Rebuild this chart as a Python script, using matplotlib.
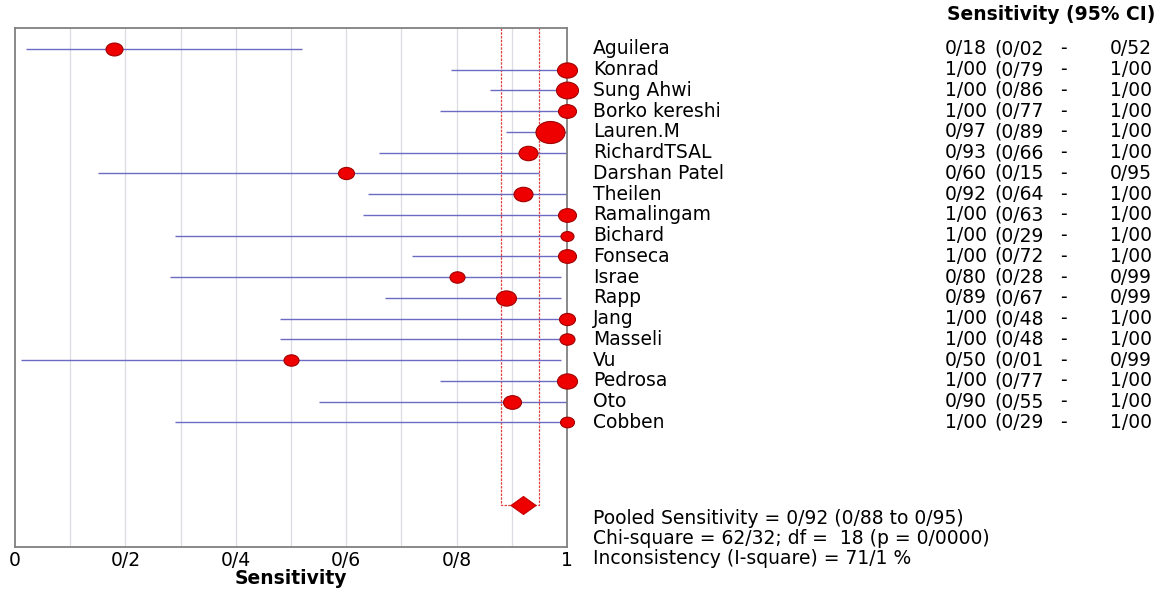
import matplotlib
matplotlib.use('Agg')

import numpy as np
import matplotlib.pyplot as plt
from matplotlib.path import Path
from matplotlib.markers import MarkerStyle

studies = ['Aguilera', 'Konrad', 'Sung Ahwi', 'Borko kereshi', 'Lauren.M', 'RichardTSAL',
           'Darshan Patel', 'Theilen', 'Ramalingam', 'Bichard', 'Fonseca', 'Israe', 'Rapp',
           'Jang', 'Masseli', 'Vu', 'Pedrosa', 'Oto', 'Cobben']
sens = [0.18, 1.00, 1.00, 1.00, 0.97, 0.93, 0.60, 0.92, 1.00, 1.00, 1.00, 0.80, 0.89,
        1.00, 1.00, 0.50, 1.00, 0.90, 1.00]
ci_low = [0.02, 0.79, 0.86, 0.77, 0.89, 0.66, 0.15, 0.64, 0.63, 0.29, 0.72, 0.28, 0.67,
          0.48, 0.48, 0.01, 0.77, 0.55, 0.29]
ci_high = [0.52, 1.00, 1.00, 1.00, 1.00, 1.00, 0.95, 1.00, 1.00, 1.00, 1.00, 0.99, 0.99,
           1.00, 1.00, 0.99, 1.00, 1.00, 1.00]
# relative study weights (marker width)
weights = [17, 20, 22, 18, 29, 19, 16, 19, 18, 13, 18, 15, 20, 16, 15, 15, 20, 18, 14]

pooled = 0.92
pooled_low = 0.88
pooled_high = 0.95
chi2 = 62.32
df = 18
i2 = 71.1

xticks = [0, 0.2, 0.4, 0.6, 0.8, 1.0]
xticklabels = ['0', '0/2', '0/4', '0/6', '0/8', '1']


def fmt(v):
    return f'{v:.2f}'.replace('.', '/')


plt.rcParams['font.family'] = ['DejaVu Sans']
FS = 13.5

fig = plt.figure(figsize=(11.59, 5.92), dpi=100)
ax = fig.add_axes([15 / 1159, 1 - 547 / 592, (567 - 15) / 1159, (547 - 28) / 592])

ypos = np.arange(len(studies))
pooled_y = 22

# ellipse marker (wider than tall) and flat diamond
circ = Path.unit_circle()
ell = MarkerStyle(Path(circ.vertices * np.array([1.0, 0.76]), circ.codes))
diamond = MarkerStyle(Path([(-1, 0), (0, 0.72), (1, 0), (0, -0.72), (-1, 0)],
                           [Path.MOVETO, Path.LINETO, Path.LINETO, Path.LINETO, Path.CLOSEPOLY]))

for gx in np.arange(0.1, 1.0, 0.1):
    ax.axvline(gx, color='#dcdce4', lw=0.9, zorder=0)

ax.hlines(ypos, ci_low, ci_high, color='#6b6bc4', lw=1.0, zorder=2)
for y, s, w in zip(ypos, sens, weights):
    ax.plot(s, y, marker=ell, ms=w * 0.72, mfc='#ee0000', mec='#a00000', mew=0.8,
            ls='none', zorder=5, clip_on=False)

# pooled estimate box and diamond
ax.plot([pooled_low, pooled_low, pooled_high, pooled_high], [-1, pooled_y, pooled_y, -1],
        color='#e04040', lw=0.9, ls=(0, (2, 1)), zorder=1)
ax.plot(pooled, pooled_y, marker=diamond, ms=18, mfc='#ee0000', mec='#c00000', mew=0.8,
        ls='none', zorder=4)

ax.set_xlim(0, 1)
ax.set_ylim(24, -1)
ax.set_yticks([])
ax.set_xticks(xticks)
ax.set_xticklabels(xticklabels, fontsize=FS)
ax.tick_params(axis='x', length=0, pad=3)
ax.set_xlabel('Sensitivity', fontsize=FS, fontweight='bold', labelpad=-1)
for sp in ax.spines.values():
    sp.set_color('#808080')
    sp.set_linewidth(1.3)

# study table on the right
tr = ax.get_yaxis_transform()
for y, name, s, lo, hi in zip(ypos, studies, sens, ci_low, ci_high):
    ax.text(1.047, y, name, transform=tr, fontsize=FS, va='center', ha='left', clip_on=False)
    ax.text(1.761, y, fmt(s), transform=tr, fontsize=FS, va='center', ha='right', clip_on=False)
    ax.text(1.775, y, f'({fmt(lo)}', transform=tr, fontsize=FS, va='center',
            ha='left', clip_on=False)
    ax.text(1.899, y, '-', transform=tr, fontsize=FS, va='center', ha='center', clip_on=False)
    ax.text(2.06, y, fmt(hi), transform=tr, fontsize=FS, va='center',
            ha='right', clip_on=False)

ax.text(2.065, -1.65, 'Sensitivity (95% CI)', transform=tr, fontsize=FS, fontweight='bold',
        va='center', ha='right', clip_on=False)

footer = [
    f'Pooled Sensitivity = {fmt(pooled)} ({fmt(pooled_low)} to {fmt(pooled_high)})',
    f'Chi-square = {fmt(chi2)}; df =  {df} (p = 0/0000)',
    f'Inconsistency (I-square) = {i2:.1f} %'.replace('.', '/'),
]
for k, line in enumerate(footer):
    ax.text(1.047, 22.65 + k * 0.95, line, transform=tr, fontsize=FS, va='center',
            ha='left', clip_on=False)

fig.savefig('out.png', dpi=100)
